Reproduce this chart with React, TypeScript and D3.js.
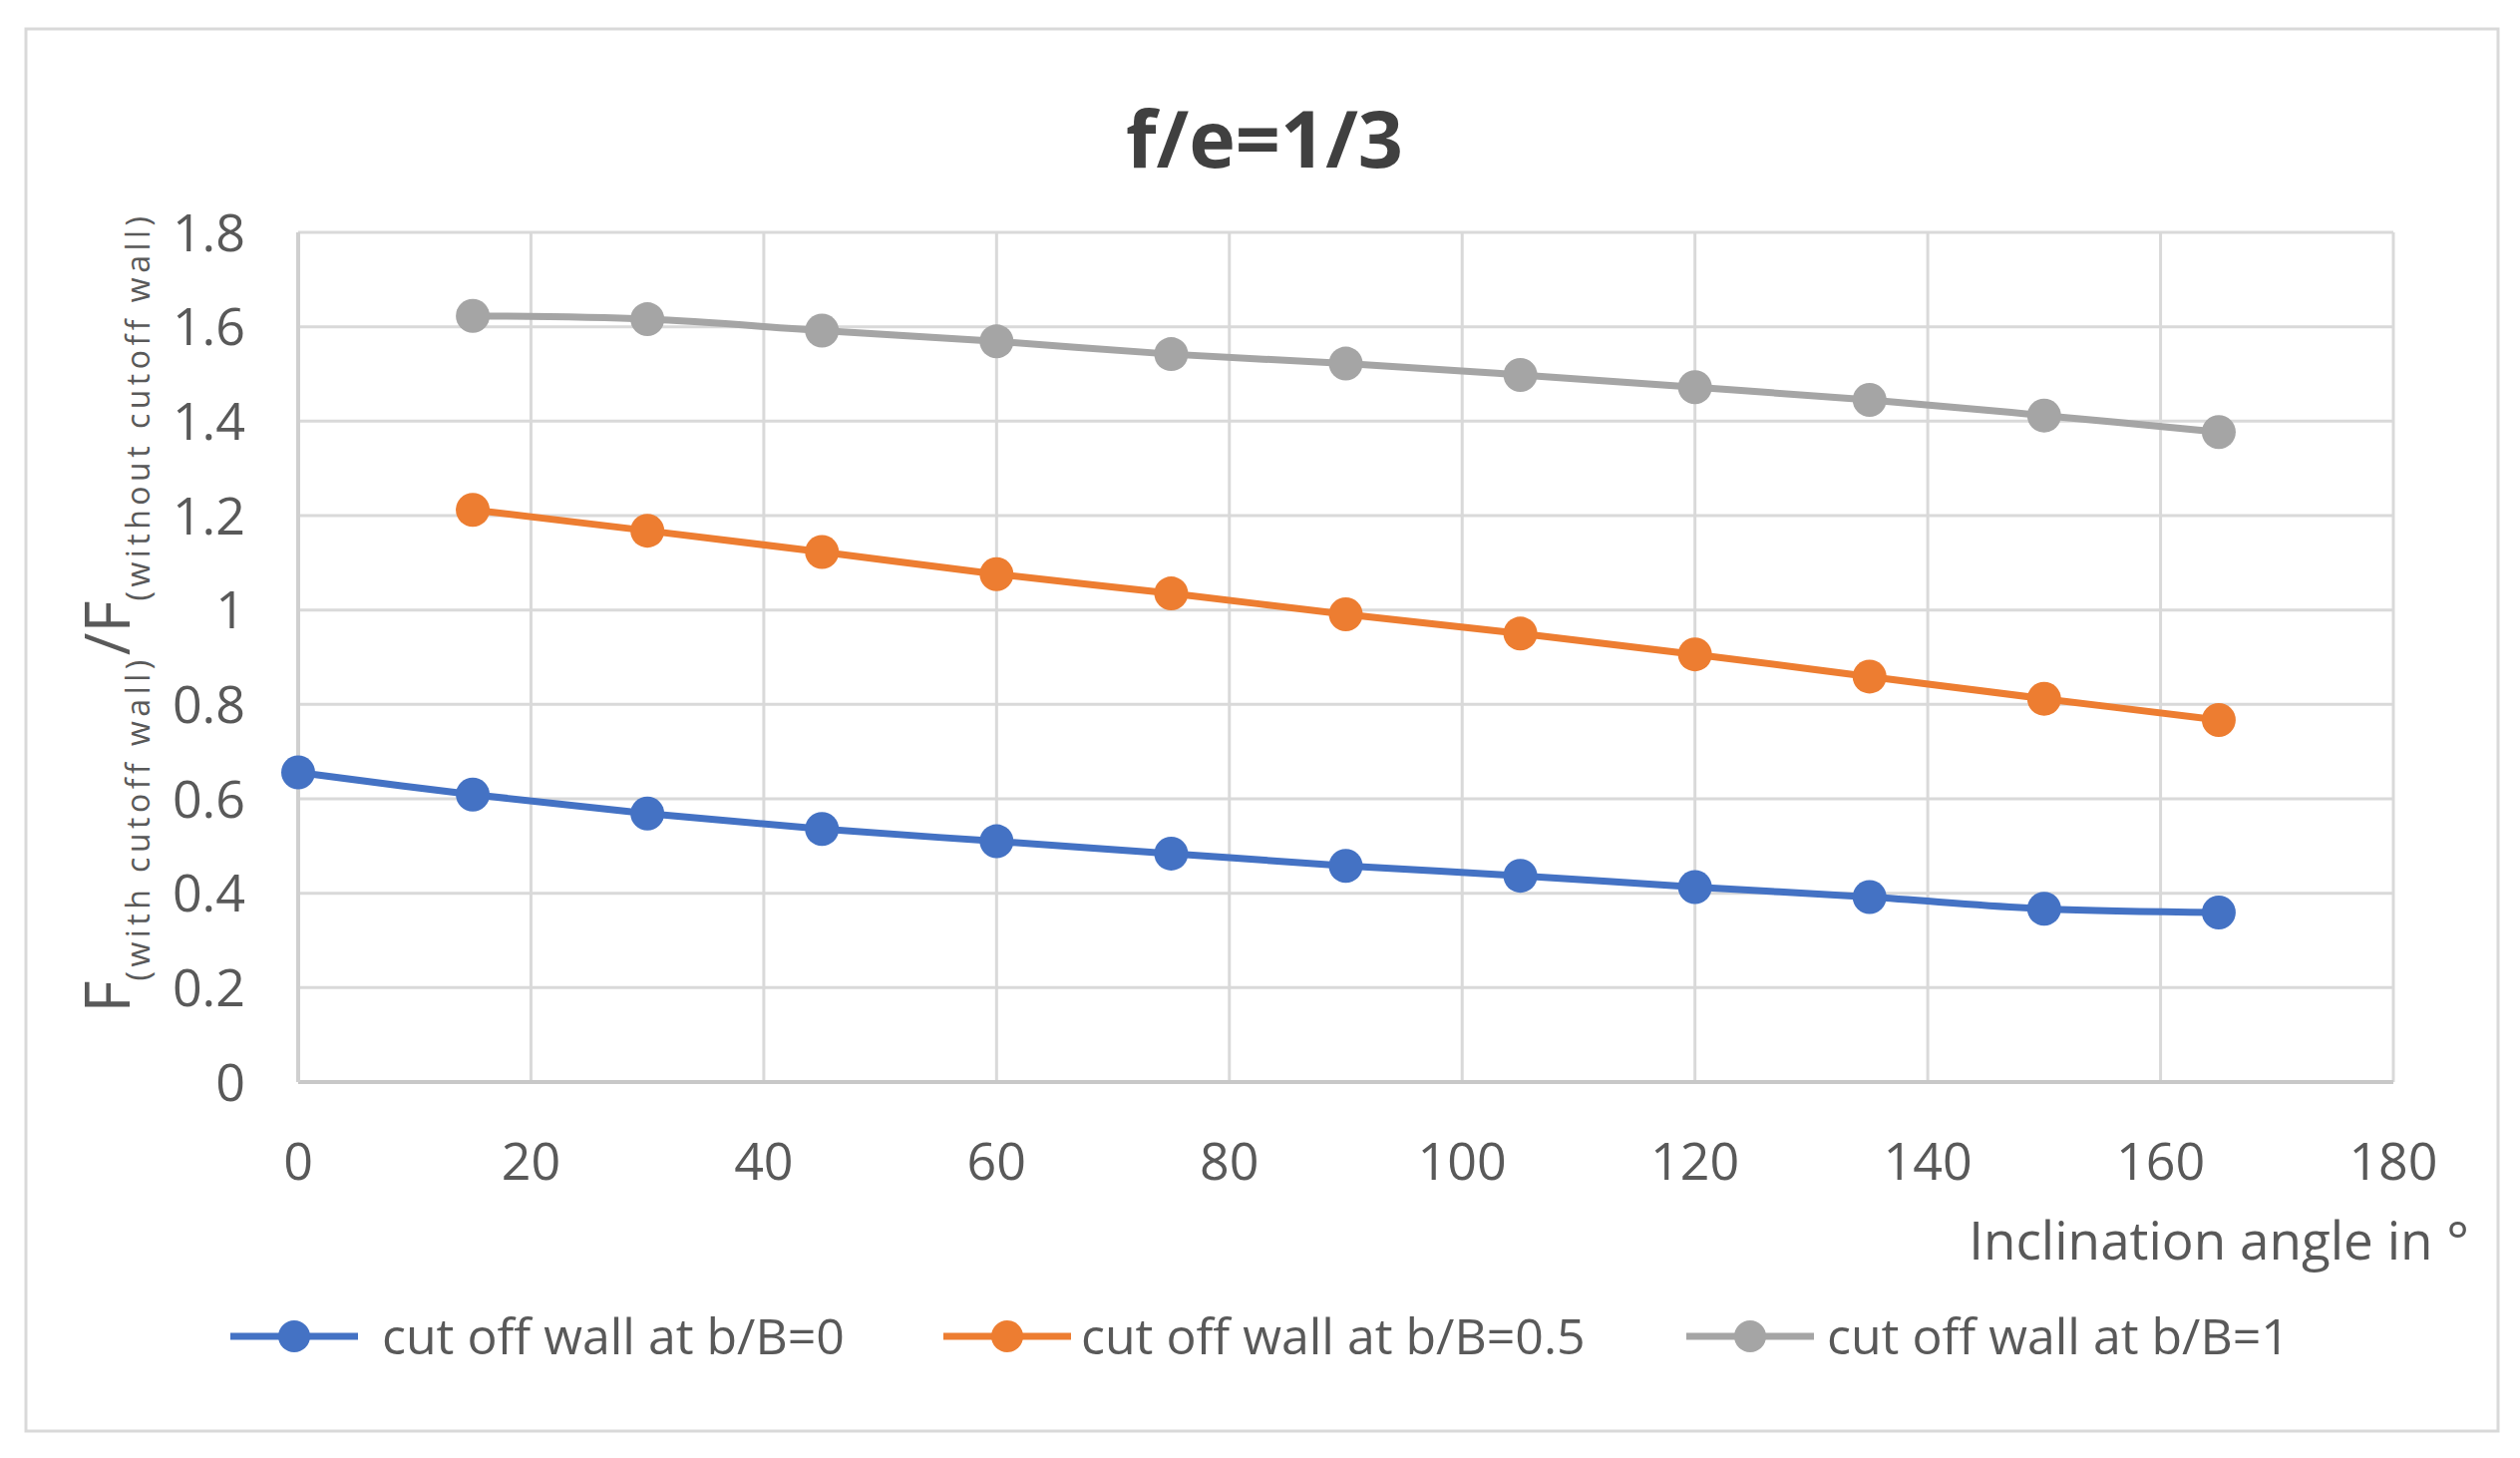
import * as d3 from 'd3';

const angles = [0, 15, 30, 45, 60, 75, 90, 105, 120, 135, 150, 165];
const wallAt0 = [0.656, 0.609, 0.569, 0.536, 0.51, 0.484, 0.458, 0.437, 0.413, 0.392, 0.367, 0.359];
const wallAt05 = [null, 1.212, 1.168, 1.123, 1.076, 1.035, 0.991, 0.95, 0.906, 0.859, 0.812, 0.767];
const wallAt1 = [null, 1.623, 1.616, 1.592, 1.569, 1.542, 1.522, 1.498, 1.472, 1.445, 1.412, 1.377];
const xTicks = [0, 20, 40, 60, 80, 100, 120, 140, 160, 180];
const yTicks = [0, 0.2, 0.4, 0.6, 0.8, 1, 1.2, 1.4, 1.6, 1.8];
const seriesNames = ['cut off wall at b/B=0', 'cut off wall at b/B=0.5', 'cut off wall at b/B=1'];
const seriesColors = ['#4472C4', '#ED7D31', '#A5A5A5'];

const W = 2527;
const H = 1462;
const plot = { left: 299, right: 2400, top: 233, bottom: 1085 };
const font = '"Open Sans", sans-serif';
const textColor = '#595959';

export default function App() {
  const x = d3.scaleLinear().domain([0, 180]).range([plot.left, plot.right]);
  const y = d3.scaleLinear().domain([0, 1.8]).range([plot.bottom, plot.top]);

  const series = [wallAt0, wallAt05, wallAt1].map((vals, i) => ({
    name: seriesNames[i],
    color: seriesColors[i],
    points: angles
      .map((a, j) => ({ a, v: vals[j] }))
      .filter((p) => p.v !== null) as { a: number; v: number }[],
  }));

  const line = d3
    .line<{ a: number; v: number }>()
    .x((d) => x(d.a))
    .y((d) => y(d.v))
    .curve(d3.curveCatmullRom.alpha(0.5));

  // legend slots: line start and text start
  const legendX = [231, 946, 1691];
  const legendTextX = [383, 1084, 1832];
  const legendY = 1340;

  return (
    <svg
      width={W}
      height={H}
      style={{ position: 'absolute', left: 0, top: 0, background: '#fff' }}
      fontFamily={font}
    >
      <rect x={0} y={0} width={W} height={H} fill="#fff" />
      <rect x={26} y={29} width={2479} height={1406} fill="#fff" stroke="#d9d9d9" strokeWidth={3} />

      <text x={1268} y={168} textAnchor="middle" fontSize={79} fontWeight="bold" fill="#404040">
        f/e=1/3
      </text>

      {/* grid */}
      {yTicks.map((t) => (
        <line key={'gy' + t} x1={plot.left} x2={plot.right} y1={y(t)} y2={y(t)} stroke="#d9d9d9" strokeWidth={3} />
      ))}
      {xTicks.map((t) => (
        <line key={'gx' + t} x1={x(t)} x2={x(t)} y1={plot.top} y2={plot.bottom} stroke="#d9d9d9" strokeWidth={3} />
      ))}
      <line x1={plot.left} x2={plot.right} y1={plot.bottom} y2={plot.bottom} stroke="#c8c8c8" strokeWidth={4} />
      <line x1={plot.left} x2={plot.left} y1={plot.top} y2={plot.bottom} stroke="#d0d0d0" strokeWidth={4} />

      {/* tick labels */}
      {yTicks.map((t) => (
        <text key={'ty' + t} x={246} y={y(t)} dy="0.36em" textAnchor="end" fontSize={52} fill={textColor}>
          {d3.format('~g')(t)}
        </text>
      ))}
      {xTicks.map((t) => (
        <text key={'tx' + t} x={x(t)} y={1183} textAnchor="middle" fontSize={52} fill={textColor}>
          {t}
        </text>
      ))}

      <text x={2476} y={1263} textAnchor="end" fontSize={53} fill={textColor}>
        Inclination angle in °
      </text>

      <g transform="translate(130,614) rotate(-90)">
        <text x={0} y={0} textAnchor="middle" fill={textColor}>
          <tspan fontSize={62}>F</tspan>
          <tspan fontSize={32} dy={20} letterSpacing={4.5}>
            (with cutoff wall)
          </tspan>
          <tspan fontSize={62} dy={-20}>
            /F
          </tspan>
          <tspan fontSize={32} dy={20} letterSpacing={4.5}>
            (without cutoff wall)
          </tspan>
        </text>
      </g>

      {/* series */}
      {series.map((s) => (
        <g key={s.name}>
          <path d={line(s.points) ?? ''} fill="none" stroke={s.color} strokeWidth={7} />
          {s.points.map((p) => (
            <circle key={p.a} cx={x(p.a)} cy={y(p.v)} r={17} fill={s.color} />
          ))}
        </g>
      ))}

      {/* legend */}
      {series.map((s, i) => (
        <g key={'lg' + s.name}>
          <line
            x1={legendX[i]}
            x2={legendX[i] + 128}
            y1={legendY}
            y2={legendY}
            stroke={s.color}
            strokeWidth={7}
          />
          <circle cx={legendX[i] + 64} cy={legendY} r={16} fill={s.color} />
          <text x={legendTextX[i]} y={legendY + 18} fontSize={50} fill={textColor}>
            {s.name}
          </text>
        </g>
      ))}
    </svg>
  );
}
